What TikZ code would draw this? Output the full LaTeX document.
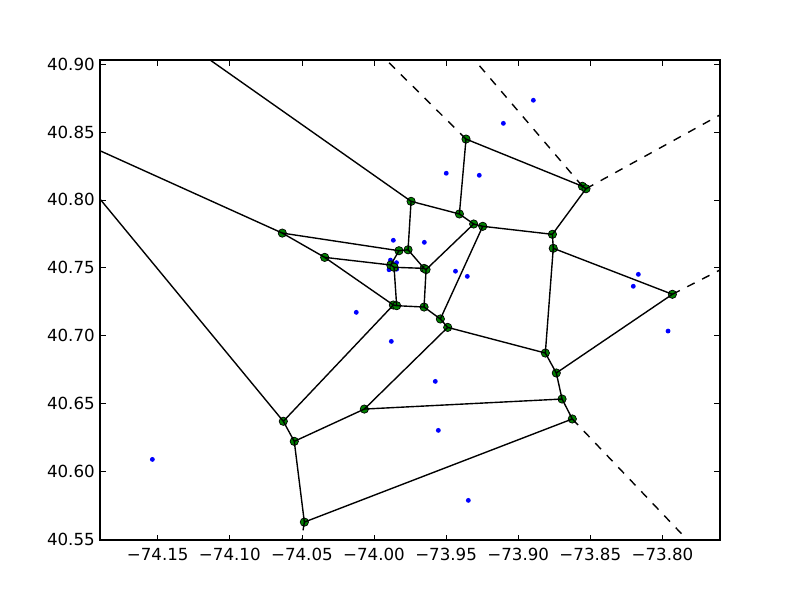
\documentclass[tikz,border=0pt]{standalone}
\usepackage{fontspec}
\setmainfont{DejaVu Sans}
\usepackage{tikz}
\definecolor{mplblue}{rgb}{0,0,1}
\definecolor{mplgreen}{rgb}{0,0.5,0}
\tikzset{
  voronoi/.style={
    x=10.382pt, y=9.768pt,
    font={\fontsize{12}{14}\selectfont}
  },
  site/.style={fill=mplblue},
  vtx/.style={fill=mplgreen, draw=black, line width=0.5pt},
  ridge/.style={line width=1pt, black},
  farridge/.style={line width=1pt, black, dash pattern=on 6pt off 6pt},
  tickmark/.style={line width=0.5pt},
  xlab/.style={anchor=north, inner sep=0pt, yshift=-5.5pt},
  ylab/.style={anchor=east, inner sep=0pt, xshift=-3.6pt}
}
\begin{document}
\begin{tikzpicture}[voronoi]
\useasboundingbox (-5.936,0.504) rectangle (49.54,44.73);
\coordinate (sw) at (0.999,4.926);
\coordinate (ne) at (43.99,40.31);
\foreach \p [count=\i] in {(31.05,37.34),(28.97,35.64),(25.01,31.96),(27.30,31.81),
  (21.34,27.02),(23.49,26.87),(21.14,25.56),(21.56,25.37),(21.04,24.85),(21.57,24.89),
  (25.65,24.74),(26.47,24.36),(38.33,24.51),(37.98,23.63),(40.39,20.33),(18.77,21.71),
  (21.20,19.57),(24.25,16.62),(24.46,13.01),(26.54,7.85),(4.63,10.87)}
  \fill[site] \p coordinate (s\i) circle (1.75pt);
\foreach \n/\x/\y in {1/26.38/34.48, 2/22.57/29.89, 3/25.92/28.96, 4/26.91/28.22,
  5/27.54/28.05, 6/32.37/27.46, 7/32.43/26.43, 8/34.45/31.00, 9/34.70/30.82,
  10/13.64/27.55, 11/16.58/25.76, 12/21.73/26.25, 13/22.36/26.32, 14/21.16/25.20,
  15/21.39/25.03, 16/23.47/24.95, 17/23.61/24.86, 18/21.34/22.25, 19/21.57/22.20,
  20/23.47/22.10, 21/24.60/21.22, 22/25.11/20.60, 23/31.88/18.71, 24/32.64/17.24,
  25/40.69/23.04, 26/33.04/15.32, 27/33.75/13.85, 28/19.33/14.58, 29/13.71/13.68,
  30/14.47/12.20, 31/15.17/6.25}
  \coordinate (v\n) at (\x,\y);
\foreach \n in {1,...,31}
  \draw[vtx] (v\n) circle (3pt);
\coordinate (t1) at (8.63,40.31);
\coordinate (l1) at (0.999,33.62);
\coordinate (l2) at (0.999,30.06);
\coordinate (d1) at (20.85,40.31);
\coordinate (d2) at (26.97,40.31);
\coordinate (d3) at (43.99,36.26);
\coordinate (d4) at (43.99,24.83);
\coordinate (d5) at (41.74,4.926);
\coordinate (d6) at (14.97,4.926);
\foreach \a/\b in {t1/v2, l1/v10, l2/v29, v1/v3, v1/v8, v8/v9, v9/v6, v2/v3, v2/v13,
  v3/v4, v4/v5, v5/v6, v6/v7, v7/v23, v7/v25, v4/v17, v5/v21, v10/v12, v10/v11,
  v12/v13, v13/v16, v12/v14, v11/v14, v14/v15, v15/v16, v16/v17, v15/v19, v11/v18,
  v18/v19, v18/v29, v19/v20, v17/v20, v20/v21, v21/v22, v22/v23, v22/v28, v23/v24,
  v24/v25, v24/v26, v26/v28, v26/v27, v27/v31, v28/v30, v29/v30, v30/v31}
  \draw[ridge] (\a) -- (\b);
\foreach \a/\b in {v1/d1, v8/d2, v9/d3, v25/d4, v27/d5, v31/d6}
  \draw[farridge] (\a) -- (\b);
\foreach \x/\lab in {5/−74.15, 10/−74.10, 15/−74.05, 20/−74.00,
  25/−73.95, 30/−73.90, 35/−73.85, 40/−73.80} {
  \draw[tickmark] (\x,4.926) -- ++(0,4pt);
  \draw[tickmark] (\x,40.31) -- ++(0,-4pt);
  \node[xlab] (xl\x) at (\x,4.926) {\lab};
}
\foreach \y/\lab in {5/40.55, 10/40.60, 15/40.65, 20/40.70,
  25/40.75, 30/40.80, 35/40.85, 40/40.90} {
  \draw[tickmark] (0.999,\y) -- ++(4pt,0);
  \draw[tickmark] (43.99,\y) -- ++(-4pt,0);
  \node[ylab] (yl\y) at (0.999,\y) {\lab};
}
\draw[line width=1pt] (sw) rectangle (ne);
\end{tikzpicture}
\end{document}
